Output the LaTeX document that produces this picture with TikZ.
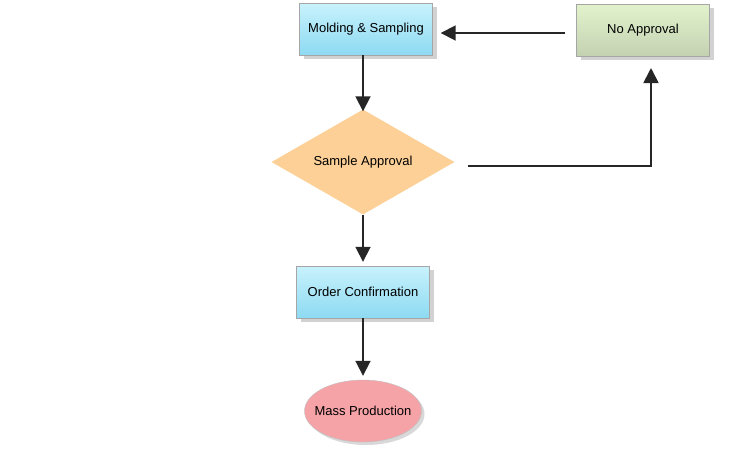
\documentclass[tikz,border=0pt]{standalone}
\usepackage{fontspec}
\setmainfont{Liberation Sans}
\usetikzlibrary{shapes.geometric,shadows,arrows.meta}
\definecolor{bluetop}{HTML}{C8F2FC}
\definecolor{bluebot}{HTML}{8DDAF2}
\definecolor{greenb}{HTML}{E2F3CC}
\definecolor{orangeb}{HTML}{FCD096}
\definecolor{pinkb}{HTML}{F6A3A8}
\tikzset{
  x=1pt,y=-1pt,
  lbl/.style={font=\fontsize{13}{15}\selectfont},
  box/.style={lbl,draw=black!35,top color=bluetop,bottom color=bluebot,minimum width=133,minimum height=52,drop shadow={opacity=0.35,shadow xshift=4pt,shadow yshift=-4pt}},
  arr/.style={draw=black!85,line width=1.8pt,-{Triangle[length=15pt,width=15pt]}}
}
\begin{document}
\begin{tikzpicture}
\useasboundingbox[fill=white] (0,0) rectangle (748,467);
\node[box] (mold) at (366,29) {Molding \& Sampling};
\node[box,top color=greenb,bottom color=greenb!85!black!95] (noap) at (643,30) {No Approval};
\node[diamond,aspect=1.7,fill=orangeb,inner sep=0pt,minimum width=183,minimum height=105,lbl] (samp) at (363,162) {Sample Approval};
\node[box] (order) at (363,292) {Order Confirmation};
\node[ellipse,inner sep=0pt,draw=black!25,fill=pinkb,minimum width=117,minimum height=62,drop shadow={opacity=0.3,shadow xshift=3pt,shadow yshift=-3pt},label={[lbl]center:Mass Production}] (mass) at (363,411) {};
\coordinate (sr) at (468,166);
\coordinate (nb) at (651,68);
\coordinate (nl) at (565,33);
\draw[arr] (mold.south -| samp) -- ([yshift=-2pt]samp.north);
\draw[arr] (sr) -| (nb);
\draw[arr] (nl) -- ([xshift=8pt]mold.east |- nl);
\draw[arr] (samp.south) -- ([yshift=4pt]order.north);
\draw[arr] (order.south) -- ([yshift=4pt]mass.north);
\end{tikzpicture}
\end{document}
